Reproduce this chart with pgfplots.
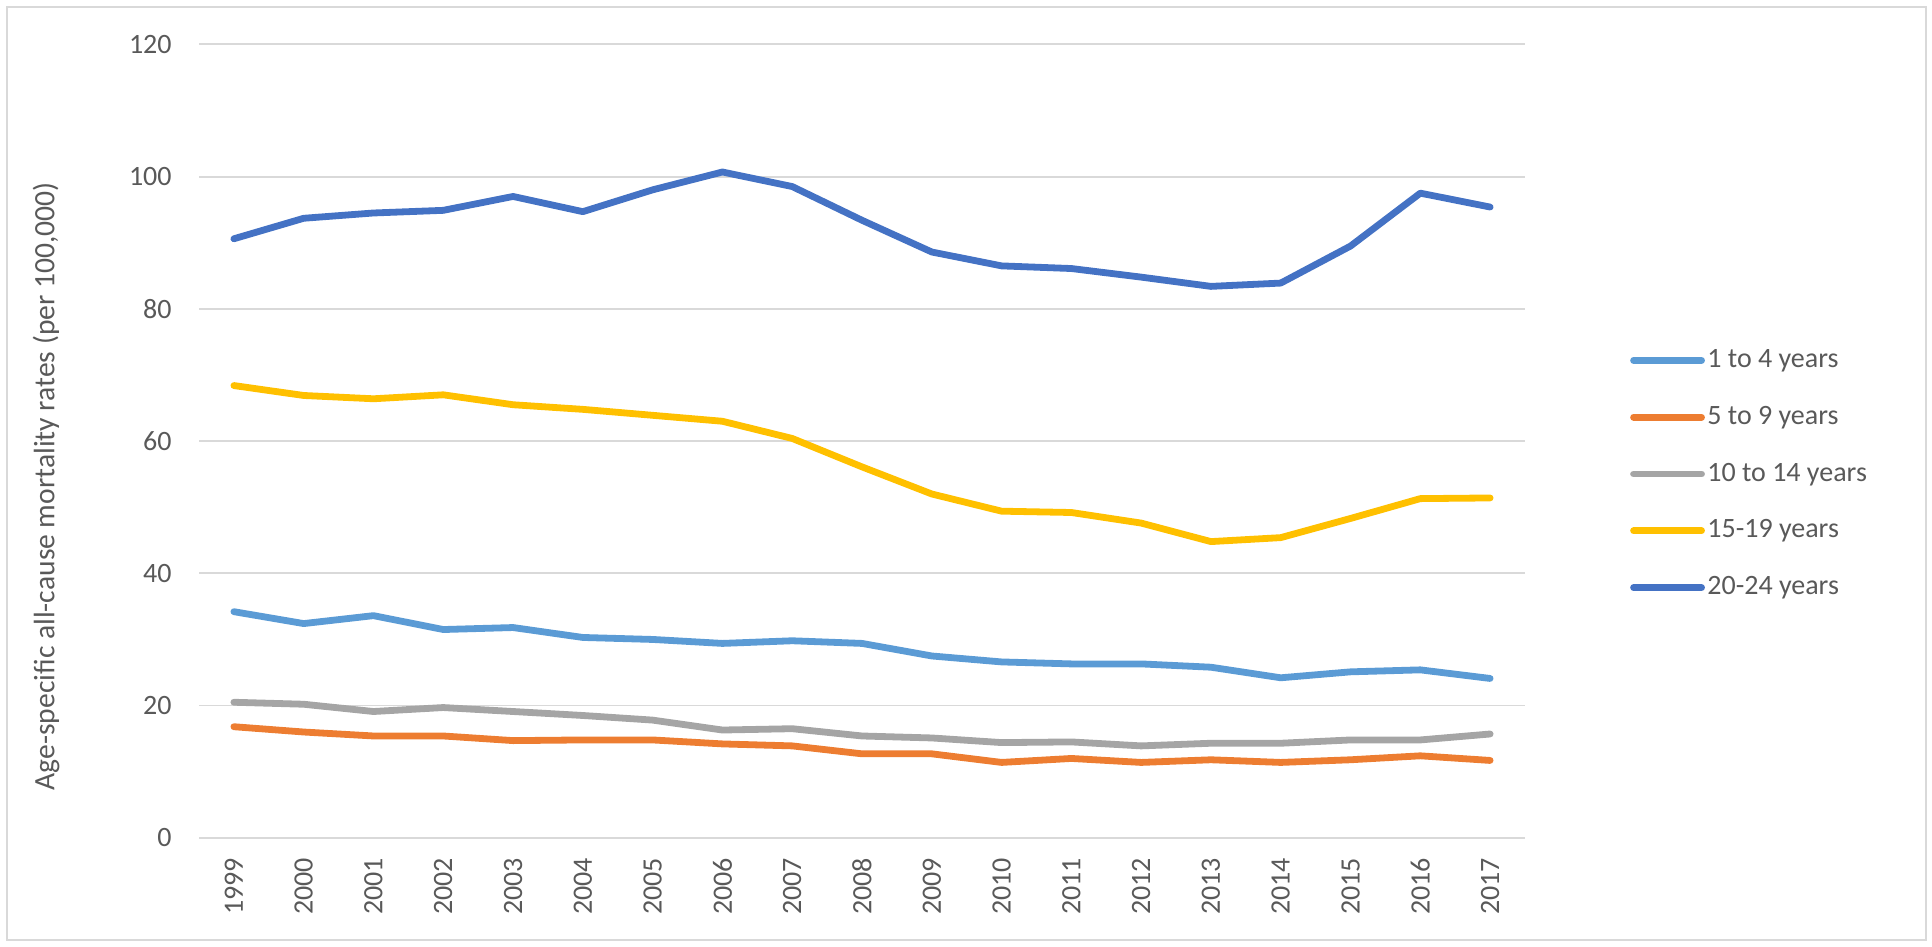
\documentclass[border=0pt]{standalone}
\usepackage{pgfplots}
\pgfplotsset{compat=1.18}
\usepackage{fontspec}
\setmainfont{Carlito}
\definecolor{cA}{HTML}{5B9BD5}
\definecolor{cB}{HTML}{ED7D31}
\definecolor{cC}{HTML}{A5A5A5}
\definecolor{cD}{HTML}{FFC000}
\definecolor{cE}{HTML}{4472C4}
\definecolor{txt}{HTML}{595959}
\definecolor{grd}{HTML}{D9D9D9}
\begin{document}
\begin{tikzpicture}
\useasboundingbox (0,0) rectangle (966bp,473.5bp);
\draw[grd, line width=1bp] (3.5bp,3.5bp) rectangle (963bp,470bp);
\begin{axis}[
  at={(99.5bp,54.6bp)}, anchor=south west,
  scale only axis, width=663bp, height=396.7bp,
  xmin=1998.5, xmax=2017.5, ymin=0, ymax=120,
  xtick={1999,2000,...,2017}, ytick={0,20,...,120},
  ymajorgrids, major grid style={grd, line width=0.9bp},
  axis line style={draw=none},
  major tick length=0pt,
  tick label style={font=\fontsize{14bp}{16bp}\selectfont, text=txt},
  /pgf/number format/assume math mode=true,
  /pgf/number format/1000 sep={},
  xticklabel style={rotate=90, anchor=east, inner sep=0pt},
  xticklabel shift=10bp,
  yticklabel style={anchor=east, inner sep=0pt},
  yticklabel shift=13.5bp,
  clip=false,
  legend style={at={(1.079,0.4585)}, anchor=west, draw=none, fill=none, inner sep=0pt,
    font=\fontsize{14bp}{16bp}\selectfont, text=txt, row sep=13bp,
    nodes={inner sep=1.2bp, text height=10bp, text depth=3bp}},
  legend cell align=left,
  legend image code/.code={\draw[#1] (0bp,0bp) -- (34bp,0bp);},
  every axis plot/.append style={line width=3.4bp, line join=round, line cap=round, mark=none},
]
\addplot[cA] coordinates {(1999,34.2)(2000,32.4)(2001,33.6)(2002,31.5)(2003,31.8)(2004,30.3)(2005,30.0)(2006,29.4)(2007,29.8)(2008,29.4)(2009,27.5)(2010,26.6)(2011,26.3)(2012,26.3)(2013,25.8)(2014,24.2)(2015,25.1)(2016,25.4)(2017,24.1)};
\addlegendentry{1 to 4 years}
\addplot[cB] coordinates {(1999,16.8)(2000,16.0)(2001,15.4)(2002,15.4)(2003,14.7)(2004,14.8)(2005,14.8)(2006,14.2)(2007,13.9)(2008,12.7)(2009,12.7)(2010,11.4)(2011,12.0)(2012,11.4)(2013,11.8)(2014,11.4)(2015,11.8)(2016,12.4)(2017,11.7)};
\addlegendentry{5 to 9 years}
\addplot[cC] coordinates {(1999,20.5)(2000,20.2)(2001,19.1)(2002,19.7)(2003,19.1)(2004,18.5)(2005,17.8)(2006,16.3)(2007,16.5)(2008,15.4)(2009,15.1)(2010,14.4)(2011,14.5)(2012,13.9)(2013,14.3)(2014,14.3)(2015,14.8)(2016,14.8)(2017,15.7)};
\addlegendentry{10 to 14 years}
\addplot[cD] coordinates {(1999,68.4)(2000,66.9)(2001,66.4)(2002,67.0)(2003,65.5)(2004,64.8)(2005,63.9)(2006,63.0)(2007,60.4)(2008,56.1)(2009,52.0)(2010,49.4)(2011,49.2)(2012,47.6)(2013,44.8)(2014,45.4)(2015,48.3)(2016,51.3)(2017,51.4)};
\addlegendentry{15-19 years}
\addplot[cE] coordinates {(1999,90.6)(2000,93.7)(2001,94.5)(2002,94.9)(2003,97.0)(2004,94.7)(2005,98.0)(2006,100.7)(2007,98.5)(2008,93.4)(2009,88.6)(2010,86.5)(2011,86.1)(2012,84.8)(2013,83.4)(2014,83.9)(2015,89.5)(2016,97.5)(2017,95.4)};
\addlegendentry{20-24 years}
\node[rotate=90, anchor=center, inner sep=0pt, font=\fontsize{14.8bp}{17bp}\selectfont, text=txt]
  at (axis description cs:-0.1154,0.443) {Age-specific all-cause mortality rates (per 100,000)};
\end{axis}
\end{tikzpicture}
\end{document}
